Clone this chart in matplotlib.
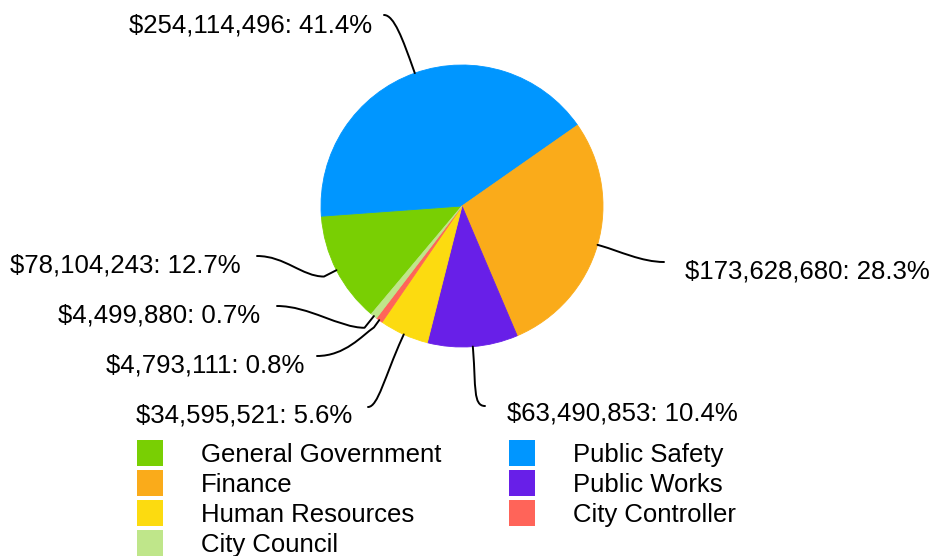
import matplotlib
matplotlib.use('Agg')
import matplotlib.pyplot as plt
from matplotlib.path import Path
from matplotlib.patches import PathPatch, Rectangle
import numpy as np

categories = ["General Government", "Public Safety", "Finance", "Public Works",
              "Human Resources", "City Controller", "City Council"]
values = [78104243, 254114496, 173628680, 63490853, 34595521, 4793111, 4499880]
colors = ["#79cf03", "#0096ff", "#faab1a", "#681fe8", "#fcdb10", "#ff6459", "#bfe68a"]

plt.rcParams['font.family'] = ['Liberation Sans', 'DejaVu Sans']
FS = 18.5

W, H = 932, 556
fig = plt.figure(figsize=(W / 100, H / 100), dpi=100)
ax = fig.add_axes([0, 0, 1, 1])

cx, cy, r = 462, 206, 141
wedges, _ = ax.pie(values, colors=colors, startangle=230, counterclock=False,
                   center=(cx, H - cy), radius=r, wedgeprops=dict(linewidth=0.6))
for w, c in zip(wedges, colors):
    w.set_edgecolor(c)
ax.set_xlim(0, W)
ax.set_ylim(0, H)
ax.set_aspect('equal')
ax.axis('off')

# label layout (pixel coords, y down):
# text x, baseline y, ha, line end x, y, radial straight len, ctrl1 radial, ctrl1 horiz, ctrl2 horiz
layout = {
    "General Government": (241, 272, 'right', 257, 256, 14, 0, 22, 28),
    "Public Safety":      (372, 32, 'right', 384, 15, 4, 32, 0, 10),
    "Finance":            (685, 278, 'left', 664, 262, 4, 18, 0, 22),
    "Public Works":       (507, 421, 'left', 485, 406, 4, 36, 0, 12),
    "Human Resources":    (352, 422, 'right', 368, 407, 4, 42, 0, 10),
    "City Controller":    (304, 373, 'right', 317, 356, 9, 10, 6, 28),
    "City Council":       (260, 322, 'right', 277, 306, 15, 0, 25, 32),
}

total = sum(values)
for w, cat, v in zip(wedges, categories, values):
    tx, ty, ha, ex, ey, d1, k1r, k1h, k2 = layout[cat]
    side = -1 if ha == 'right' else 1
    mid = np.deg2rad((w.theta1 + w.theta2) / 2)
    ux, uy = np.cos(mid), np.sin(mid)
    p0 = (cx + r * ux, (H - cy) + r * uy)
    p1 = (p0[0] + d1 * ux, p0[1] + d1 * uy)
    c1 = (p1[0] + k1r * ux + side * k1h, p1[1] + k1r * uy)
    p3 = (ex, H - ey)
    c2 = (ex - side * k2, H - ey)
    path = Path([p0, p1, c1, c2, p3],
                [Path.MOVETO, Path.LINETO, Path.CURVE4, Path.CURVE4, Path.CURVE4])
    ax.add_patch(PathPatch(path, fill=False, edgecolor='black', linewidth=1.4,
                           capstyle='round', joinstyle='round'))
    pct = v / total * 100
    ax.text(tx, H - ty, f"${v:,}: {pct:.1f}%", ha=ha, va='baseline', fontsize=FS, color='black')

# legend
sq = 26
col_sq_x = [137, 509]
col_tx = [201, 573]
row_c = [453, 483, 513, 543]
for i, (cat, c) in enumerate(zip(categories, colors)):
    row, col = i // 2, i % 2
    yc = row_c[row]
    ax.add_patch(Rectangle((col_sq_x[col], H - yc - sq / 2), sq, sq, facecolor=c, edgecolor='none'))
    ax.text(col_tx[col], H - yc - 9, cat, ha='left', va='baseline', fontsize=FS, color='black')

fig.savefig('out.png', dpi=100)
